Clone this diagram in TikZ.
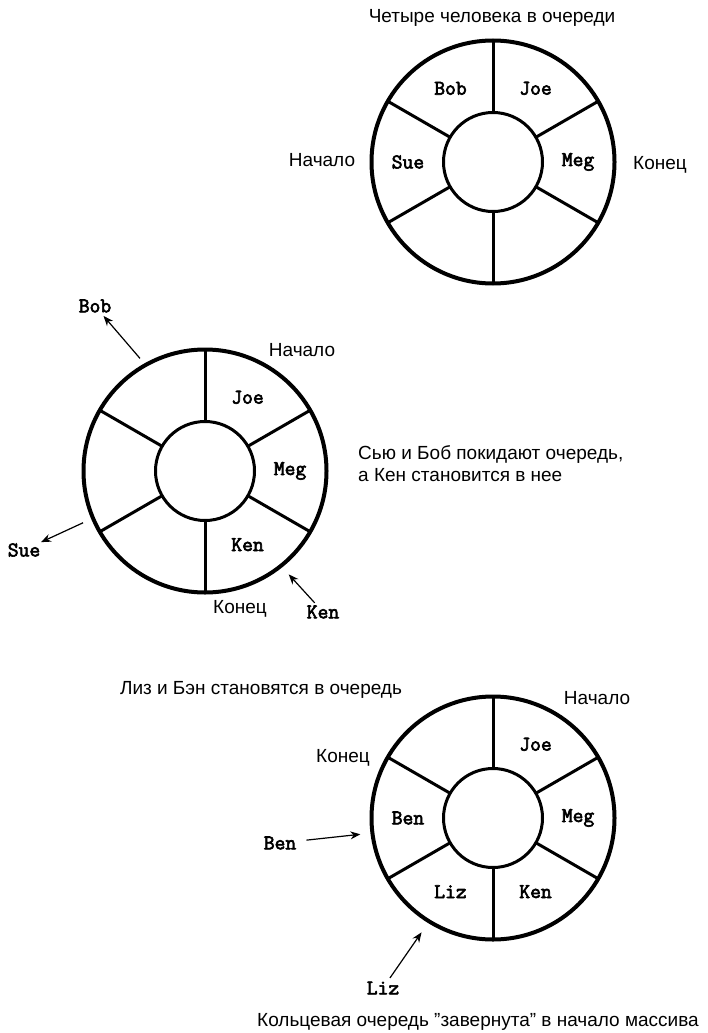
\documentclass[tikz,border=0pt]{standalone}
\usepackage{fontspec}
\setmainfont{Liberation Sans}
\newfontfamily\whofont{Latin Modern Mono}[FakeBold=3]
\usetikzlibrary{arrows.meta, positioning, calc}

\begin{document}
\begin{tikzpicture}[x=1pt, y=-1pt,
            ring/.style={circle, draw, line width=4pt, minimum size=243pt, inner sep=0pt, outer sep=0pt},
            hub/.style={circle, draw, fill=white, line width=3pt, minimum size=99pt, inner sep=0pt, outer sep=0pt},
            spoke/.style={line width=3pt},
            who/.style={font=\fontsize{21}{21}\selectfont\whofont, inner sep=1pt},
            txt/.style={font=\fontsize{19}{22}\selectfont, inner sep=0pt},
            arr/.style={-{Stealth[length=10pt, width=8pt]}, line width=1.2pt}]
            \useasboundingbox (0,0) rectangle (707,1033);
            % four people in the queue
            \node[txt] (title1) at (492,18) {Четыре человека в очереди};
            \node[ring] (r1) at (493,162) {};
            \node[hub] (h1) at (493,162) {};
            \foreach \a in {30,90,...,330} \draw[spoke] (h1.\a) -- (r1.\a);
            \node[who] (joe1) at ($(r1.center)!0.7!(r1.60)$) {Joe};
            \node[who] (bob1) at ($(r1.center)!0.7!(r1.120)$) {Bob};
            \node[who] (sue1) at ($(r1.center)!0.7!(r1.180)$) {Sue};
            \node[who] (meg1) at ($(r1.center)!0.7!(r1.0)$) {Meg};
            \node[txt] (head1) at (322,160) {Начало};
            \node[txt] (tail1) at (660,165) {Конец};
            % Sue and Bob leave, Ken joins
            \node[ring] (r2) at (205,471) {};
            \node[hub] (h2) at (205,471) {};
            \foreach \a in {30,90,...,330} \draw[spoke] (h2.\a) -- (r2.\a);
            \node[who] (joe2) at ($(r2.center)!0.7!(r2.60)$) {Joe};
            \node[who] (meg2) at ($(r2.center)!0.7!(r2.0)$) {Meg};
            \node[who] (ken2) at ($(r2.center)!0.7!(r2.-60)$) {Ken};
            \node[txt] (head2) at (302,350) {Начало};
            \node[txt] (tail2) at (240,609) {Конец};
            \node[who] (bobout) at (95,306) {Bob};
            \node[who] (sueout) at (24,550) {Sue};
            \node[who] (kenin2) at (323,612) {Ken};
            \coordinate (bobgo) at ($(r2.center)!1.07!(r2.120)$);
            \coordinate (suego) at ($(r2.center)!1.09!(r2.203)$);
            \coordinate (kenat) at ($(r2.center)!1.095!(r2.-51)$);
            \draw[arr, shorten >=3pt] (bobgo) -- (bobout);
            \draw[arr] (suego) -- (sueout);
            \draw[arr, shorten <=2pt] (kenin2) -- (kenat);
            \node[txt, align=left, anchor=north west] (note2) at (358,445) {Сью и Боб покидают очередь,\\а Кен становится в нее};
            % Liz and Ben join, queue wraps around
            \node[txt] (title3) at (261,690) {Лиз и Бэн становятся в очередь};
            \node[ring] (r3) at (493,818) {};
            \node[hub] (h3) at (493,818) {};
            \foreach \a in {30,90,...,330} \draw[spoke] (h3.\a) -- (r3.\a);
            \node[who] (joe3) at ($(r3.center)!0.7!(r3.60)$) {Joe};
            \node[who] (meg3) at ($(r3.center)!0.7!(r3.0)$) {Meg};
            \node[who] (ken3) at ($(r3.center)!0.7!(r3.-60)$) {Ken};
            \node[who] (liz3) at ($(r3.center)!0.7!(r3.240)$) {Liz};
            \node[who] (ben3) at ($(r3.center)!0.7!(r3.180)$) {Ben};
            \node[txt] (head3) at (597,698) {Начало};
            \node[txt] (tail3) at (343,758) {Конец};
            \node[who] (benin3) at (280,843) {Ben};
            \node[who] (lizin3) at (383,988) {Liz};
            \coordinate (benat) at ($(r3.center)!1.1!(r3.187)$);
            \coordinate (lizat) at ($(r3.center)!1.11!(r3.238)$);
            \draw[arr, shorten <=9pt] (benin3) -- (benat);
            \draw[arr, shorten <=3pt] (lizin3) -- (lizat);
            \node[txt] (note3) at (478,1022) {Кольцевая очередь \symbol{34}завернута\symbol{34} в начало массива};
        \end{tikzpicture}
\end{document}
